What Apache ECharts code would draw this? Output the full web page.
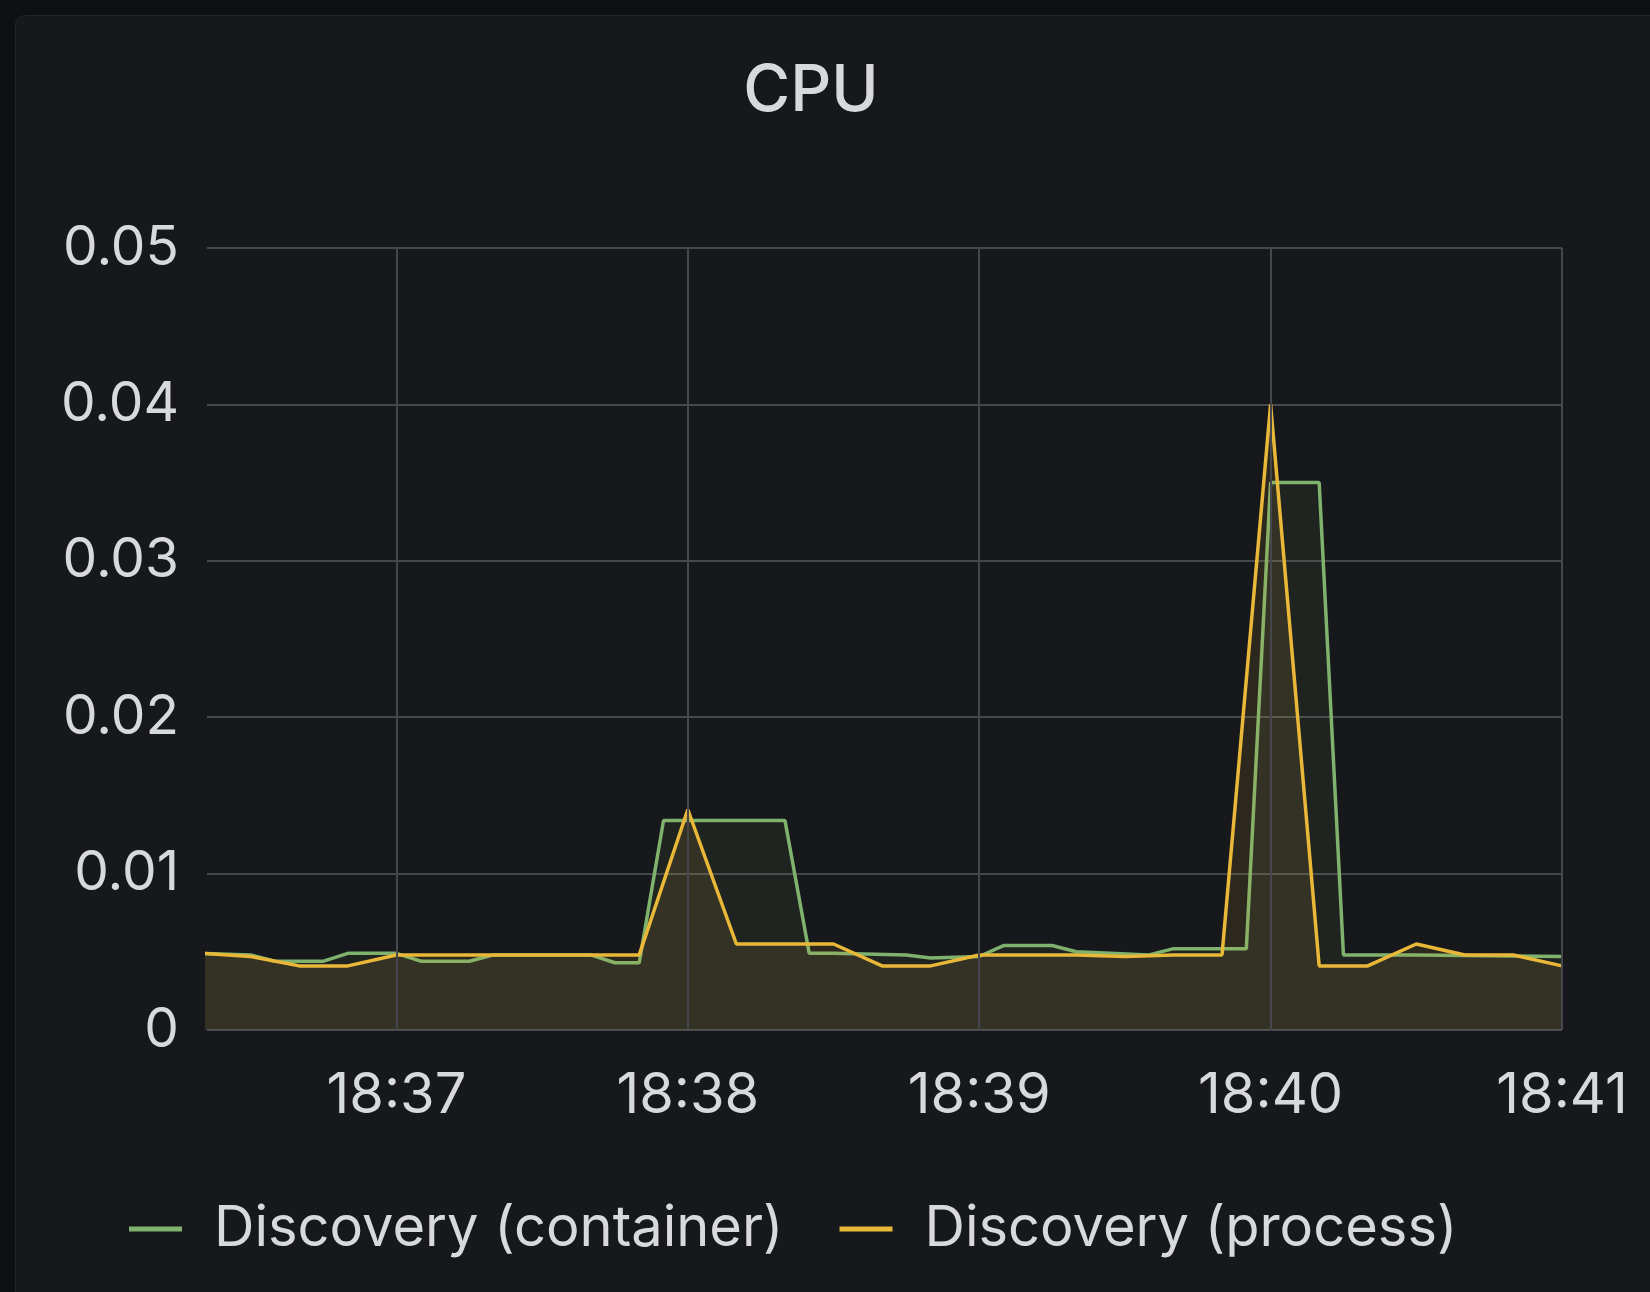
<!DOCTYPE html>
<html>
<head>
<meta charset="utf-8">
<script src="https://cdn.jsdelivr.net/npm/echarts@6/dist/echarts.min.js"></script>
<style>
  html, body { margin: 0; padding: 0; width: 1650px; height: 1292px; background: #0f1012; overflow: hidden; }
  #panel { position: absolute; left: 15px; top: 15px; width: 1650px; height: 1300px; background: #17181b; border: 1px solid #222428; border-radius: 10px; }
  #chart { position: absolute; left: 0; top: 0; width: 1650px; height: 1292px; }
</style>
</head>
<body>
<div id="panel"></div>
<div id="chart"></div>
<script>
const titleText = 'CPU';
const seriesNames = ['Discovery (container)', 'Discovery (process)'];
const yTicks = [0, 0.01, 0.02, 0.03, 0.04, 0.05];
const xTicks = ['18:37:00', '18:38:00', '18:39:00', '18:40:00', '18:41:00'];

const containerTimes = ['18:36:20','18:36:30','18:36:35','18:36:45','18:36:50','18:37:00','18:37:05','18:37:15','18:37:20','18:37:40','18:37:45','18:37:50','18:37:55','18:38:20','18:38:25','18:38:30','18:38:45','18:38:50','18:39:00','18:39:05','18:39:15','18:39:20','18:39:35','18:39:40','18:39:55','18:40:00','18:40:10','18:40:15','18:40:30','18:41:00'];
const containerValues = [0.0049,0.0048,0.0044,0.0044,0.0049,0.0049,0.0044,0.0044,0.0048,0.0048,0.0043,0.0043,0.0134,0.0134,0.0049,0.0049,0.0048,0.0046,0.0047,0.0054,0.0054,0.0050,0.0048,0.0052,0.0052,0.0350,0.0350,0.0048,0.0048,0.0047];

const processTimes = ['18:36:20','18:36:30','18:36:40','18:36:50','18:37:00','18:37:10','18:37:20','18:37:30','18:37:40','18:37:50','18:38:00','18:38:10','18:38:20','18:38:30','18:38:40','18:38:50','18:39:00','18:39:10','18:39:20','18:39:30','18:39:40','18:39:50','18:40:00','18:40:10','18:40:20','18:40:30','18:40:40','18:40:50','18:41:00'];
const processValues = [0.0049,0.0047,0.0041,0.0041,0.0048,0.0048,0.0048,0.0048,0.0048,0.0048,0.0141,0.0055,0.0055,0.0055,0.0041,0.0041,0.0048,0.0048,0.0048,0.0047,0.0048,0.0048,0.0400,0.0041,0.0041,0.0055,0.0048,0.0048,0.0041];

const axisStart = '18:36:21';
const axisEnd = '18:41:00';

function toTs(s) {
  const p = s.split(':').map(Number);
  return new Date(2024, 0, 1, p[0], p[1], p[2] || 0).getTime();
}
function pairs(times, vals) { return times.map((t, i) => [toTs(t), vals[i]]); }

const font = 'Inter, "Noto Sans", sans-serif';
const textColor = '#d8d9da';
const gridColor = '#45474c';
const colors = ['#7EB26D', '#EAB839'];

const chart = echarts.init(document.getElementById('chart'), null, { renderer: 'canvas' });
chart.setOption({
  backgroundColor: 'transparent',
  animation: false,
  title: {
    text: titleText,
    left: 806, top: 55, textAlign: 'center',
    textStyle: { color: textColor, fontFamily: font, fontSize: 64, fontWeight: 500 }
  },
  legend: {
    left: 124, top: 1196,
    itemWidth: 53, itemHeight: 5, itemGap: 56,
    icon: 'rect',
    data: seriesNames,
    textStyle: { color: textColor, fontFamily: font, fontSize: 56, padding: [0, 0, 0, 27] }
  },
  grid: { left: 207, right: 88, top: 248, bottom: 262 },
  xAxis: {
    type: 'time',
    min: toTs(axisStart), max: toTs(axisEnd),
    minInterval: 60000, maxInterval: 60000,
    axisLine: { show: false },
    axisTick: { show: false },
    axisLabel: {
      color: textColor, fontFamily: font, fontSize: 56, margin: 38,
      showMinLabel: false, showMaxLabel: true,
      formatter: (v) => { const d = new Date(v); return String(d.getHours()).padStart(2,'0') + ':' + String(d.getMinutes()).padStart(2,'0'); }
    },
    splitLine: { show: false }
  },
  yAxis: {
    type: 'value',
    min: yTicks[0], max: yTicks[yTicks.length - 1], interval: 0.01,
    axisLine: { show: false },
    axisTick: { show: false },
    axisLabel: {
      color: textColor, fontFamily: font, fontSize: 55, margin: 28,
      formatter: (v) => v === 0 ? '0' : v.toFixed(2)
    },
    splitLine: { show: true, lineStyle: { color: gridColor, width: 2 } }
  },
  series: [
    {
      name: 'grid-minutes', type: 'line', data: [], z: 1, silent: true,
      markLine: {
        silent: true, symbol: 'none', animation: false,
        label: { show: false },
        lineStyle: { color: gridColor, width: 2, type: 'solid' },
        data: xTicks.map(t => ({ xAxis: toTs(t) }))
      }
    },
    {
      name: seriesNames[0], type: 'line', data: pairs(containerTimes, containerValues),
      showSymbol: false, color: colors[0], z: 2,
      lineStyle: { width: 3.5, color: colors[0] },
      areaStyle: { color: colors[0], opacity: 0.08 }
    },
    {
      name: seriesNames[1], type: 'line', data: pairs(processTimes, processValues),
      showSymbol: false, color: colors[1], z: 3,
      lineStyle: { width: 3.5, color: colors[1] },
      areaStyle: { color: colors[1], opacity: 0.1 }
    }
  ]
});
</script>
</body>
</html>
